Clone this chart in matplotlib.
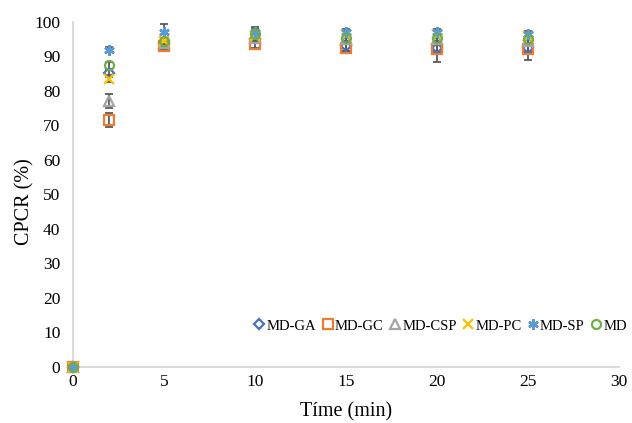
import matplotlib
matplotlib.use("Agg")
import matplotlib.pyplot as plt

time = [0, 2, 5, 10, 15, 20, 25]
series_names = ["MD-GA", "MD-GC", "MD-CSP", "MD-PC", "MD-SP", "MD"]
md_ga = [0, 85.2, 94.0, 95.0, 93.0, 92.5, 92.5]
md_gc = [0, 71.5, 93.0, 93.5, 92.5, 92.3, 92.3]
md_csp = [0, 77.0, 94.0, 95.5, 95.0, 95.0, 94.5]
md_pc = [0, 83.5, 94.5, 96.0, 96.5, 96.5, 96.0]
md_sp = [0, 92.0, 97.0, 97.0, 97.0, 97.0, 96.5]
md = [0, 87.5, 94.5, 96.5, 95.5, 95.5, 95.0]

err_ga = [0, 1.0, 1.0, 1.0, 1.5, 4.0, 3.5]
err_gc = [0, 2.0, 1.0, 1.0, 1.0, 1.0, 1.0]
err_csp = [0, 2.0, 1.0, 1.0, 1.0, 1.0, 1.0]
err_pc = [0, 1.0, 1.0, 1.0, 1.0, 1.0, 1.0]
err_sp = [0, 0.8, 2.5, 1.5, 1.0, 1.0, 1.0]
err_md = [0, 1.0, 1.0, 1.5, 1.0, 1.0, 1.0]

values = [md_ga, md_gc, md_csp, md_pc, md_sp, md]
errors = [err_ga, err_gc, err_csp, err_pc, err_sp, err_md]
colors = ["#4472C4", "#ED7D31", "#A5A5A5", "#FFC000", "#5B9BD5", "#70AD47"]
markers = ["D", "s", "^", "x", "X", "o"]
msizes = [5, 6.5, 6.5, 6.5, 6.5, 6.5]

plt.rcParams['font.family'] = ['Liberation Serif', 'DejaVu Serif']

fig = plt.figure(figsize=(6.32, 4.23), dpi=100)
ax = fig.add_axes([0.1155, 0.1324, 0.8635, 0.8156])

handles = []
for name, v, e, c, m, ms in zip(series_names, values, errors, colors, markers, msizes):
    ax.errorbar(time, v, yerr=e, fmt='none', ecolor='#595959', elinewidth=1.3,
                capsize=3, capthick=1.3, zorder=2)
    if m == "x":
        h, = ax.plot(time, v, linestyle='none', marker=m, markersize=ms,
                     color=c, markeredgewidth=1.6, label=name, zorder=3, clip_on=False)
    elif m == "X":
        h, = ax.plot(time, v, linestyle='none', marker=(6, 2, 0), markersize=ms + 1,
                     color=c, markeredgewidth=1.8, label=name, zorder=3, clip_on=False)
    else:
        h, = ax.plot(time, v, linestyle='none', marker=m, markersize=ms,
                     markerfacecolor='none', markeredgecolor=c,
                     markeredgewidth=1.6, label=name, zorder=3, clip_on=False)
    handles.append(h)

ax.set_xlim(0, 30)
ax.set_ylim(0, 100)
ax.set_xticks(range(0, 31, 5))
ax.set_yticks(range(0, 101, 10))
ax.tick_params(axis='both', length=0, labelsize=12.5, colors='#000000')
ax.tick_params(axis='x', pad=5)
ax.tick_params(axis='y', pad=9)

for side in ('top', 'right'):
    ax.spines[side].set_visible(False)
for side in ('left', 'bottom'):
    ax.spines[side].set_color('#D9D9D9')
    ax.spines[side].set_linewidth(1.3)

ax.set_xlabel('Tíme (min)', fontsize=14.5, labelpad=9)
ax.set_ylabel('CPCR (%)', fontsize=14.5)
ax.yaxis.set_label_coords(-0.071, 0.478)

leg = ax.legend(handles=handles, loc='center right', bbox_to_anchor=(1.0255, 0.119),
                ncol=6, frameon=False, fontsize=10.5, handlelength=0.8,
                handletextpad=0.1, columnspacing=0.37, borderaxespad=0)

fig.savefig('out.png', dpi=100)
